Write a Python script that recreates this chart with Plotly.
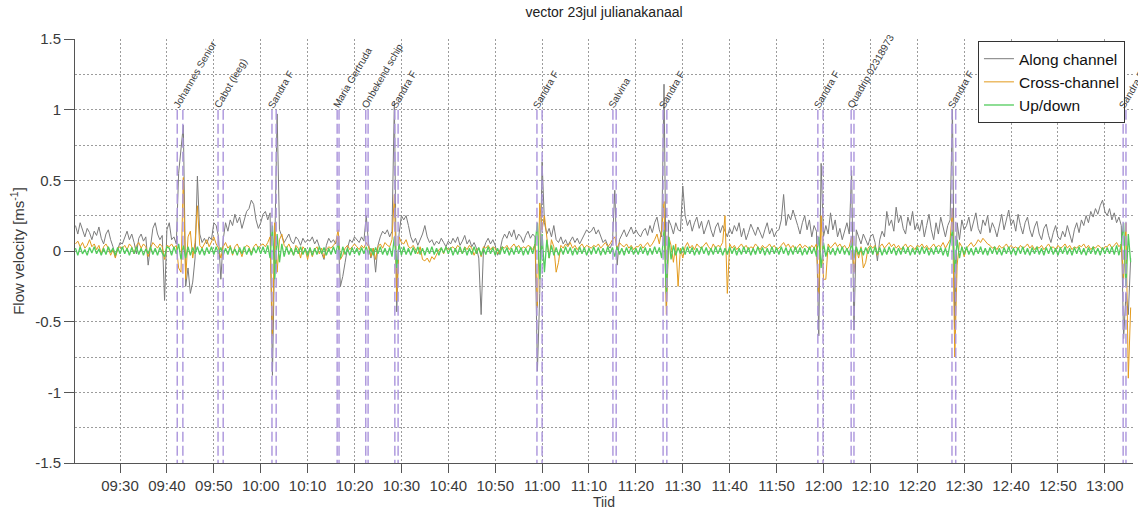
import pandas as pd
import plotly.graph_objects as go

# Velocity record of 23 July, one sample every 30 s starting 09:20:30.
# Each row below spans 10 minutes (20 samples).
along = [
    0.18, 0.12, 0.20, 0.15, 0.10, 0.16, 0.13, 0.08, 0.14, 0.11, 0.17, 0.09, 0.05, 0.12, 0.15, 0.08, 0.03, -0.04, 0.02, 0.06,
    0.05, 0.10, 0.14, 0.08, 0.12, 0.06, -0.02, 0.09, 0.12, 0.07, 0.10, -0.10, 0.04, 0.16, 0.20, 0.12, 0.08, 0.11, -0.35, 0.15,
    0.20, 0.08, 0.10, 0.05, 0.55, 0.75, 0.89, -0.25, -0.12, -0.30, -0.22, -0.05, 0.53, 0.12, 0.06, 0.09, 0.05, 0.10, 0.08, 0.20,
    0.18, 0.10, -0.20, 0.08, 0.20, 0.14, 0.22, 0.18, 0.26, 0.20, 0.24, 0.16, 0.22, 0.28, 0.30, 0.36, 0.33, 0.22, 0.16, 0.20,
    0.26, 0.28, 0.22, 0.27, -0.88, 0.20, 0.97, 0.15, 0.10, 0.06, 0.09, 0.12, 0.07, 0.05, 0.10, 0.08, 0.04, 0.09, 0.06, 0.08,
    0.07, 0.10, 0.05, 0.08, 0.03, -0.02, -0.06, 0.04, 0.09, 0.06, 0.08, 0.05, 0.10, -0.25, -0.18, -0.08, 0.02, 0.08, 0.06, 0.10,
    0.08, 0.06, 0.10, 0.07, 0.25, 0.05, -0.05, 0.02, -0.15, 0.04, 0.10, 0.14, 0.12, 0.15, 0.10, 0.14, 1.06, -0.43, 0.12, 0.25,
    0.22, 0.25, 0.18, 0.10, 0.06, 0.09, 0.04, 0.08, 0.12, 0.18, 0.10, 0.06, 0.08, 0.04, 0.07, 0.05, 0.09, 0.06, 0.03, 0.07,
    0.05, 0.09, 0.06, 0.10, 0.04, 0.07, 0.11, 0.05, 0.08, 0.03, 0.06, 0.02, -0.05, -0.45, 0.01, 0.06, 0.09, 0.05, 0.08, 0.04,
    -0.03, 0.00, 0.08, 0.12, 0.09, 0.14, 0.10, 0.15, 0.08, 0.12, 0.10, 0.06, 0.11, 0.14, 0.09, 0.12, 0.10, -0.85, -0.30, 0.63,
    0.20, 0.12, 0.16, 0.10, 0.18, 0.08, 0.06, 0.10, 0.05, 0.08, 0.04, 0.07, 0.10, 0.06, 0.09, 0.05, 0.08, 0.12, 0.15, 0.13,
    0.14, 0.17, 0.12, 0.15, 0.10, 0.06, 0.08, 0.04, 0.02, 0.06, 0.43, -0.10, 0.08, 0.12, 0.15, 0.10, 0.13, 0.17, 0.12, 0.15,
    0.12, 0.10, 0.14, 0.16, 0.11, 0.18, 0.13, 0.20, 0.24, 0.15, 0.10, 1.18, -0.39, 0.22, 0.18, 0.12, 0.20, 0.15, 0.14, 0.46,
    0.25, 0.18, 0.22, 0.14, 0.20, 0.24, 0.16, 0.21, 0.12, 0.18, 0.22, 0.15, 0.10, 0.17, 0.20, 0.13, 0.18, 0.14, 0.10, 0.16,
    0.12, 0.18, 0.14, 0.20, 0.10, 0.16, 0.08, 0.13, 0.19, 0.15, 0.11, 0.17, 0.13, 0.09, 0.15, 0.20, 0.12, 0.16, 0.10, 0.14,
    0.15, 0.22, 0.40, 0.18, 0.26, 0.22, 0.29, 0.24, 0.18, 0.12, 0.20, 0.25, 0.15, 0.22, 0.10, 0.18, 0.14, -0.60, 0.62, 0.10,
    0.18, 0.12, 0.27, 0.15, 0.22, 0.10, 0.16, 0.08, 0.14, 0.20, 0.12, 0.57, -0.56, 0.15, 0.10, 0.05, 0.12, 0.08, 0.04, 0.10,
    0.12, 0.06, -0.07, 0.08, 0.14, 0.10, 0.28, 0.18, 0.22, 0.14, 0.31, 0.20, 0.25, 0.16, 0.12, 0.24, 0.18, 0.28, 0.15, 0.20,
    0.14, 0.22, 0.10, 0.18, 0.26, 0.15, 0.08, 0.20, 0.12, 0.24, 0.16, 0.10, 0.18, 0.22, 1.00, -0.55, 0.20, 0.08, 0.22, 0.15,
    0.18, 0.24, 0.14, 0.20, 0.27, 0.16, 0.12, 0.22, 0.18, 0.25, 0.13, 0.20, 0.16, 0.10, 0.19, 0.26, 0.15, 0.22, 0.29, 0.18,
    0.22, 0.14, 0.26, 0.18, 0.12, 0.20, 0.24, 0.15, 0.10, 0.17, 0.21, 0.12, 0.08, 0.16, 0.19, 0.11, 0.06, 0.13, 0.18, 0.10,
    0.08, 0.14, 0.10, 0.18, 0.12, 0.06, 0.15, 0.20, 0.13, 0.22, 0.18, 0.25, 0.20, 0.28, 0.24, 0.30, 0.26, 0.32, 0.36, 0.28,
    0.25, 0.30, 0.22, 0.27, 0.20, 0.24, 0.18, -0.62, -0.30, -0.45, -0.05,
]

cross = [
    0.05, 0.07, 0.03, 0.06, 0.02, 0.04, 0.08, 0.03, 0.05, 0.01, 0.04, -0.02, 0.03, 0.05, 0.02, -0.03, 0.01, -0.05, 0.02, 0.03,
    0.02, 0.04, 0.01, 0.05, 0.03, -0.02, 0.04, 0.06, 0.02, 0.05, 0.03, -0.04, 0.02, 0.06, 0.04, 0.02, 0.05, 0.03, -0.06, 0.04,
    0.03, 0.05, 0.02, 0.04, -0.12, -0.15, 0.52, -0.20, 0.10, 0.14, -0.05, 0.06, 0.32, 0.04, 0.02, 0.05, 0.08, 0.03, 0.06, 0.10,
    0.05, 0.02, -0.05, 0.03, 0.06, 0.02, 0.04, -0.03, 0.03, 0.05, 0.01, -0.04, 0.02, 0.04, 0.03, -0.02, 0.03, 0.05, 0.02, 0.04,
    0.05, 0.03, 0.06, 0.10, -0.60, 0.20, -0.15, 0.08, 0.12, 0.04, 0.02, 0.05, 0.01, -0.03, 0.04, 0.02, -0.05, 0.03, 0.01, -0.06,
    0.02, -0.04, 0.01, 0.03, -0.02, 0.02, -0.05, 0.01, 0.03, 0.02, 0.04, 0.06, 0.15, -0.06, -0.03, 0.02, 0.04, 0.01, 0.03, 0.05,
    0.03, 0.01, 0.04, 0.02, 0.06, 0.03, -0.04, 0.02, -0.06, 0.03, 0.05, 0.02, 0.06, 0.04, 0.03, 0.08, 0.40, -0.35, 0.10, 0.06,
    0.05, 0.08, 0.03, 0.02, 0.04, 0.01, -0.02, 0.03, -0.06, -0.07, -0.05, -0.08, -0.04, -0.06, -0.03, 0.01, 0.02, -0.02, 0.03, 0.01,
    0.02, 0.03, 0.01, 0.04, 0.02, -0.02, 0.03, 0.01, 0.04, 0.02, -0.03, 0.01, 0.02, -0.04, 0.03, 0.02, 0.04, 0.01, 0.03, 0.02,
    -0.02, 0.01, 0.03, 0.02, 0.04, 0.01, 0.03, 0.05, 0.02, 0.04, 0.01, 0.03, 0.02, 0.04, 0.03, 0.01, 0.05, -0.40, 0.34, 0.15,
    0.25, 0.10, -0.05, 0.08, 0.03, -0.15, -0.08, 0.04, 0.02, 0.05, 0.03, 0.06, 0.02, 0.04, 0.01, 0.03, 0.05, 0.02, 0.04, 0.03,
    0.02, 0.04, 0.03, 0.05, 0.02, 0.04, 0.06, 0.03, 0.05, 0.08, 0.10, 0.02, 0.06, 0.04, 0.03, 0.05, 0.02, 0.04, 0.01, 0.03,
    0.03, 0.05, 0.02, 0.04, 0.06, 0.03, 0.05, 0.08, 0.12, 0.05, 0.15, 0.35, -0.45, 0.10, 0.04, -0.08, 0.05, -0.25, 0.02, -0.05,
    0.03, 0.06, 0.02, 0.04, 0.01, 0.05, 0.03, 0.02, 0.04, 0.06, 0.03, 0.01, 0.05, 0.02, 0.04, 0.03, 0.06, 0.25, -0.30, 0.05,
    0.02, 0.04, 0.01, 0.03, 0.05, 0.02, 0.04, 0.01, 0.03, 0.02, 0.05, 0.03, 0.01, 0.04, 0.02, 0.03, 0.05, 0.02, 0.04, 0.01,
    0.02, 0.04, 0.06, 0.03, 0.05, 0.02, 0.04, 0.01, 0.03, 0.05, 0.02, 0.04, 0.03, 0.01, 0.04, 0.02, 0.05, -0.30, 0.25, -0.20,
    -0.20, 0.05, 0.02, 0.04, 0.06, 0.03, 0.05, 0.02, 0.04, 0.01, 0.03, 0.10, -0.15, 0.02, -0.05, 0.03, -0.12, -0.08, 0.02, 0.04,
    0.02, 0.04, -0.03, 0.03, 0.05, 0.02, 0.04, 0.06, 0.03, 0.05, 0.02, 0.04, 0.01, 0.03, 0.05, 0.02, 0.04, 0.03, 0.01, 0.04,
    0.03, 0.05, 0.02, 0.04, 0.01, 0.03, 0.05, 0.02, 0.04, 0.03, 0.06, 0.02, 0.05, 0.08, 0.30, -0.75, -0.10, 0.06, 0.03, -0.04,
    0.02, 0.04, 0.06, 0.03, 0.05, 0.08, 0.06, 0.09, 0.07, 0.05, 0.04, 0.02, 0.03, 0.01, 0.04, 0.02, 0.03, 0.05, 0.02, 0.04,
    0.02, 0.03, 0.01, 0.04, 0.02, 0.03, 0.05, 0.02, 0.04, 0.01, 0.03, 0.02, 0.04, 0.01, 0.03, 0.05, 0.02, 0.03, 0.01, 0.04,
    0.02, 0.03, 0.05, 0.02, 0.04, 0.01, 0.03, 0.02, 0.04, 0.03, 0.05, 0.02, 0.04, 0.01, 0.03, 0.02, 0.04, 0.03, 0.01, 0.03,
    0.03, 0.05, 0.02, 0.04, 0.06, 0.03, 0.05, -0.20, 0.20, -0.90, -0.40,
]

updown = [
    0.02, -0.03, 0.03, -0.02, 0.01, -0.03, 0.025, -0.015, 0.03, -0.02, 0.015, -0.03, 0.02, -0.025, 0.03, -0.01, 0.02, -0.03, 0.025, -0.02,
    0.03, -0.02, 0.02, -0.03, 0.025, -0.02, 0.03, -0.025, 0.02, -0.03, 0.015, -0.02, 0.03, -0.025, 0.02, -0.03, 0.025, -0.015, -0.04, 0.03,
    0.02, -0.03, 0.03, -0.02, 0.05, -0.06, 0.04, -0.05, 0.03, -0.03, 0.025, -0.02, 0.03, -0.025, 0.02, -0.03, 0.025, -0.02, 0.03, -0.025,
    0.03, -0.02, 0.025, -0.03, 0.02, -0.025, 0.03, -0.02, 0.015, -0.03, 0.025, -0.02, 0.03, -0.025, 0.02, -0.03, 0.025, -0.015, 0.03, -0.02,
    0.03, -0.02, 0.04, -0.05, 0.18, -0.20, 0.12, -0.08, 0.05, -0.04, 0.03, -0.025, 0.02, -0.03, 0.025, -0.02, 0.03, -0.025, 0.02, -0.03,
    0.025, -0.03, 0.02, -0.025, 0.03, -0.02, 0.025, -0.03, 0.02, -0.025, 0.03, -0.02, 0.06, -0.05, 0.03, -0.025, 0.02, -0.03, 0.025, -0.02,
    0.02, -0.03, 0.025, -0.02, 0.03, -0.025, 0.02, -0.03, 0.025, -0.02, 0.03, -0.025, 0.02, -0.03, 0.025, -0.04, 0.10, -0.12, 0.05, -0.03,
    0.03, -0.025, 0.02, -0.03, 0.025, -0.02, 0.03, -0.025, 0.02, -0.03, 0.025, -0.02, 0.03, -0.025, 0.02, -0.03, 0.025, -0.015, 0.03, -0.02,
    0.025, -0.03, 0.02, -0.025, 0.03, -0.02, 0.025, -0.03, 0.02, -0.025, 0.03, -0.02, 0.025, -0.03, 0.02, -0.025, 0.03, -0.02, 0.025, -0.03,
    0.02, -0.025, 0.03, -0.02, 0.025, -0.03, 0.02, -0.025, 0.03, -0.02, 0.025, -0.03, 0.02, -0.025, 0.03, -0.02, 0.05, 0.20, -0.20, 0.12,
    -0.15, 0.08, -0.05, 0.04, -0.03, 0.025, -0.03, 0.02, -0.025, 0.03, -0.02, 0.025, -0.03, 0.02, -0.025, 0.03, -0.02, 0.025, -0.03, 0.02,
    -0.025, 0.03, -0.02, 0.025, -0.03, 0.02, -0.025, 0.03, -0.02, 0.025, -0.04, 0.03, -0.025, 0.02, -0.03, 0.025, -0.02, 0.03, -0.025, 0.02,
    -0.025, 0.03, -0.02, 0.025, -0.03, 0.02, -0.025, 0.03, -0.02, 0.025, -0.05, 0.15, -0.30, 0.10, -0.06, 0.04, -0.03, 0.025, -0.02, 0.03,
    -0.025, 0.03, -0.02, 0.025, -0.03, 0.02, -0.025, 0.03, -0.02, 0.025, -0.03, 0.02, -0.025, 0.03, -0.02, 0.025, -0.03, 0.02, -0.025, 0.03,
    -0.02, 0.025, -0.03, 0.02, -0.025, 0.03, -0.02, 0.025, -0.03, 0.02, -0.025, 0.03, -0.02, 0.025, -0.03, 0.02, -0.025, 0.03, -0.02, 0.025,
    -0.025, 0.03, -0.02, 0.025, -0.03, 0.02, -0.025, 0.03, -0.02, 0.025, -0.03, 0.02, -0.025, 0.03, -0.02, 0.025, -0.04, 0.10, -0.12, 0.06,
    -0.04, 0.03, -0.025, 0.02, -0.03, 0.025, -0.02, 0.03, -0.025, 0.02, -0.03, 0.06, -0.05, 0.03, -0.025, 0.02, -0.03, 0.025, -0.02, 0.03,
    -0.025, 0.03, -0.02, 0.025, -0.03, 0.02, -0.025, 0.03, -0.02, 0.025, -0.03, 0.02, -0.025, 0.03, -0.02, 0.025, -0.03, 0.02, -0.025, 0.03,
    -0.025, 0.03, -0.02, 0.025, -0.03, 0.02, -0.025, 0.03, -0.02, 0.025, -0.03, 0.02, -0.04, 0.06, 0.15, -0.15, 0.08, -0.05, 0.03, -0.025,
    0.03, -0.025, 0.02, -0.03, 0.025, -0.02, 0.03, -0.025, 0.02, -0.03, 0.025, -0.02, 0.03, -0.025, 0.02, -0.03, 0.025, -0.02, 0.03, -0.025,
    0.02, -0.03, 0.025, -0.02, 0.03, -0.025, 0.02, -0.03, 0.025, -0.02, 0.03, -0.025, 0.02, -0.03, 0.025, -0.02, 0.03, -0.025, 0.02, -0.03,
    0.025, -0.02, 0.03, -0.025, 0.02, -0.03, 0.025, -0.02, 0.03, -0.025, 0.02, -0.03, 0.025, -0.02, 0.03, -0.025, 0.02, -0.03, 0.025, -0.02,
    0.025, -0.02, 0.03, -0.025, 0.04, -0.03, 0.05, 0.20, -0.25, 0.12, -0.08,
]

# Ship passages: name, start and end of the passage
ship_names = [
    "Johannes Senior", "Cabot (leeg)", "Sandra F", "Maria Gertruda", "Onbekend schip",
    "Sandra F", "Sandra F", "Salvina", "Sandra F", "Sandra F",
    "Quadrip 02318973", "Sandra F", "Sandra F",
]
ship_start = [
    "09:42:12", "09:50:54", "10:02:24", "10:16:18", "10:22:24",
    "10:28:36", "10:58:54", "11:15:06", "11:25:48", "11:58:48",
    "12:05:54", "12:27:24", "13:03:54",
]
ship_end = [
    "09:43:24", "09:52:00", "10:03:18", "10:16:42", "10:22:54",
    "10:29:18", "11:00:00", "11:15:48", "11:26:36", "11:59:54",
    "12:06:30", "12:28:12", "13:04:30",
]

y_ticks = [-1.5, -1, -0.5, 0, 0.5, 1, 1.5]
y_tick_text = ["-1.5", "-1", "-0.5", "0", "0.5", "1", "1.5"]

DAY = "2013-07-23"
times = pd.date_range(f"{DAY} 09:20:30", periods=len(along), freq="30s")

FONT = "Liberation Sans, Arial, sans-serif"
TXT = "#3a3a3a"
GRID = "#9c9c9c"

fig = go.Figure()
series = [
    ("Along channel", along, "#7c7c7c", 1.0),
    ("Cross-channel", cross, "#E39A1C", 1.0),
    ("Up/down", updown, "#52CC5C", 1.3),
]
for name, vals, color, width in series:
    fig.add_trace(go.Scatter(
        x=times, y=vals, mode="lines", name=name,
        line=dict(color=color, width=width),
    ))

for name, s, e in zip(ship_names, ship_start, ship_end):
    for t in (s, e):
        fig.add_shape(
            type="line", xref="x", yref="y",
            x0=f"{DAY} {t}", x1=f"{DAY} {t}", y0=1, y1=-1.5,
            line=dict(color="rgba(172,150,220,0.95)", width=1.5, dash="10px,4px"),
            layer="above",
        )
    fig.add_annotation(
        x=f"{DAY} {s}", y=1, xref="x", yref="y",
        text=name, showarrow=False, textangle=-60,
        xanchor="left", yanchor="bottom", xshift=-9, yshift=-3,
        font=dict(family=FONT, size=10, color=TXT),
    )

fig.update_layout(
    width=1138, height=511,
    margin=dict(l=75, r=5, t=39, b=45),
    paper_bgcolor="white", plot_bgcolor="white",
    font=dict(family=FONT, size=15, color=TXT),
    title=dict(
        text="vector 23jul julianakanaal", xref="paper", x=0.5, xanchor="center",
        yref="container", y=0.976, yanchor="middle",
        font=dict(family=FONT, size=14, color="#222"),
    ),
    legend=dict(
        x=0.9924, xanchor="right", y=0.995, yanchor="top",
        bgcolor="white", bordercolor="#333", borderwidth=1,
        font=dict(family=FONT, size=15.5, color="#111"),
        tracegroupgap=0,
    ),
    showlegend=True,
)

fig.update_xaxes(
    type="date",
    range=[f"{DAY} 09:20:24", f"{DAY} 13:06:00"],
    tick0=f"{DAY} 09:30:00", dtick=600000, tickformat="%H:%M",
    ticks="outside", ticklen=9, tickcolor="#555", tickwidth=1,
    showline=True, linecolor="#555", linewidth=1,
    showgrid=True, gridcolor=GRID, griddash="2px,2px", gridwidth=1, zeroline=False,
    tickfont=dict(family=FONT, size=15, color=TXT),
    title=dict(text="Tiid", standoff=2, font=dict(family=FONT, size=14, color=TXT)),
)
fig.update_yaxes(
    range=[-1.5, 1.5],
    tickvals=y_ticks, ticktext=y_tick_text,
    ticks="outside", ticklen=10, tickcolor="#555", tickwidth=1,
    showline=True, linecolor="#555", linewidth=1,
    showgrid=True, gridcolor=GRID, griddash="2px,2px", gridwidth=1, zeroline=False,
    minor=dict(dtick=0.25, tick0=0, showgrid=True, gridcolor=GRID, griddash="2px,2px", ticks=""),
    tickfont=dict(family=FONT, size=15, color=TXT),
    title=dict(text="Flow velocity [ms<sup>-1</sup>]", standoff=6, font=dict(family=FONT, size=15, color=TXT)),
)

fig.write_html("out.html")
